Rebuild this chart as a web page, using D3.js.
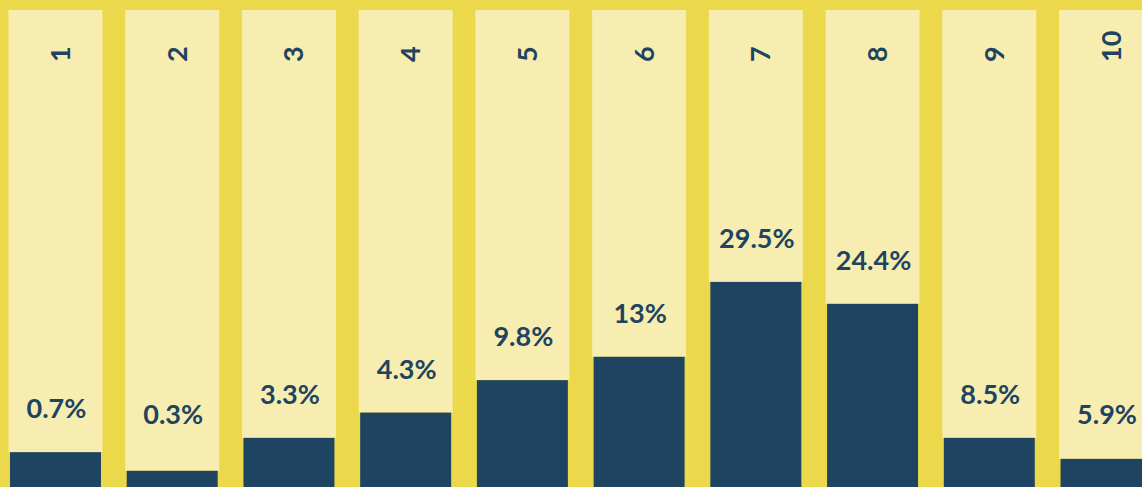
<!DOCTYPE html>
<html>
<head>
<meta charset="utf-8">
<script src="https://d3js.org/d3.v7.min.js"></script>
<style>
  html, body { margin: 0; padding: 0; background: #ecd84b; overflow: hidden; }
  text { font-family: Lato, "Open Sans", sans-serif; font-weight: 700; fill: #1e4461; }
</style>
</head>
<body>
<div id="chart"></div>
<script>
// Categories along the top.
const categories = ["1", "2", "3", "4", "5", "6", "7", "8", "9", "10"];

// Share labels shown above each bar (%).
const shares = [0.7, 0.3, 3.3, 4.3, 9.8, 13, 29.5, 24.4, 8.5, 5.9];

// Bar fill level, as % of column height.
const barLevel = [7.3, 3.4, 10.3, 15.6, 22.4, 27.3, 43.0, 38.4, 10.3, 5.9];

const width = 1142,
      height = 487,
      colTop = 10,
      labelOffset = 34,   // label baseline above bar top
      labelFloor = 424;   // labels never drop below this

const svg = d3.select("#chart").append("svg")
    .attr("width", width)
    .attr("height", height);

const x = d3.scaleBand()
    .domain(categories)
    .range([8.5, 1153])
    .paddingInner(0.195)
    .paddingOuter(0);

const y = d3.scaleLinear()
    .domain([0, 100])
    .range([height, colTop]);

const data = categories.map((c, i) => ({ cat: c, share: shares[i], level: barLevel[i] }));

// Pale column behind each bar (stops at the bar top).
svg.append("g")
  .selectAll("rect")
  .data(data)
  .join("rect")
    .attr("x", d => x(d.cat))
    .attr("y", y(100))
    .attr("width", x.bandwidth())
    .attr("height", d => y(d.level) - y(100))
    .attr("fill", "#f7edb1");

// Dark bars.
svg.append("g")
  .selectAll("rect")
  .data(data)
  .join("rect")
    .attr("x", d => x(d.cat) + 1.5)
    .attr("y", d => y(d.level))
    .attr("width", x.bandwidth() - 3)
    .attr("height", d => y(0) - y(d.level))
    .attr("fill", "#1e4461");

// Category labels, rotated, reading upwards.
svg.append("g")
  .selectAll("text")
  .data(data)
  .join("text")
    .attr("text-anchor", "start")
    .attr("font-size", 27)
    .attr("transform", d => "translate(" + (x(d.cat) + x.bandwidth() / 2 + 14.5) + ",62) rotate(-90)")
    .text(d => d.cat);

// Share labels above the bars.
svg.append("g")
  .selectAll("text")
  .data(data)
  .join("text")
    .attr("text-anchor", "middle")
    .attr("font-size", 27)
    .attr("x", d => x(d.cat) + x.bandwidth() / 2 + 1)
    .attr("y", d => Math.min(y(d.level) - labelOffset, labelFloor))
    .text(d => d.share + "%");
</script>
</body>
</html>
